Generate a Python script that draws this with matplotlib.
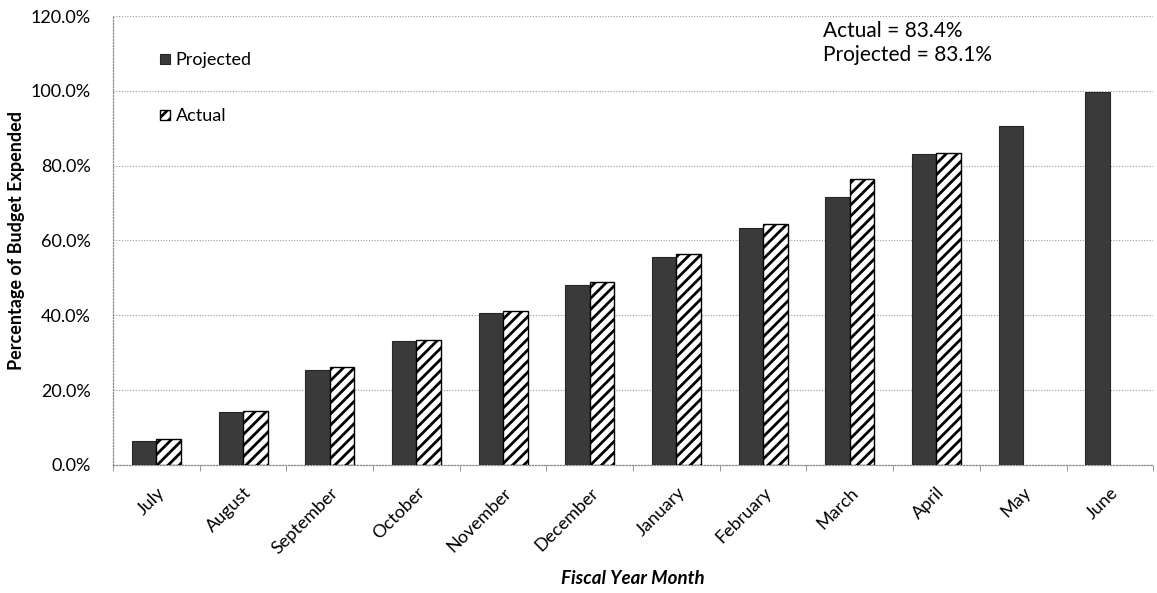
import matplotlib.pyplot as plt
import numpy as np
from matplotlib.ticker import FuncFormatter

# Cumulative share of budget spent by month
months = ['July', 'August', 'September', 'October', 'November', 'December',
          'January', 'February', 'March', 'April', 'May', 'June']
projected = [6.4, 14.1, 25.3, 33.2, 40.6, 48.2, 55.6, 63.4, 71.7, 83.1, 90.5, 99.7]
actual = [6.9, 14.5, 26.2, 33.5, 41.2, 48.8, 56.5, 64.3, 76.4, 83.4]

plt.rcParams['font.family'] = ['Lato', 'DejaVu Sans']
plt.rcParams['hatch.linewidth'] = 2.0

fig = plt.figure(figsize=(11.57, 5.93), dpi=100)
ax = fig.add_axes([0.0977, 0.216, 0.899, 0.757])

x = np.arange(len(months))
w = 0.283

ax.bar(x - w / 2, projected, width=w, color='#3a3a3a', edgecolor='#262626',
       linewidth=0.8, label='Projected', zorder=3)
ax.bar(x[:len(actual)] + w / 2, actual, width=w, color='white', edgecolor='black',
       hatch='///', linewidth=1.0, label='Actual', zorder=3)

ax.set_xlim(-0.5, len(months) - 0.5)
ax.set_ylim(0, 120)
ax.set_yticks(np.arange(0, 121, 20))
ax.yaxis.set_major_formatter(FuncFormatter(lambda v, p: f'{v:.1f}%'))
ax.tick_params(axis='y', length=0, labelsize=13, pad=16)

ax.set_xticks(x)
ax.set_xticklabels(months, rotation=45, ha='right', rotation_mode='anchor',
                   fontsize=13)
ax.set_xticks(np.arange(-0.5, len(months), 1), minor=True)
ax.tick_params(axis='x', which='major', length=0, pad=14)
ax.tick_params(axis='x', which='minor', length=4, color='#888888')

# dotted grid and axis lines
ax.grid(axis='y', linestyle=(0, (1, 1.5)), color='#999999', linewidth=0.8, zorder=0)
for side in ['top', 'right']:
    ax.spines[side].set_visible(False)
for side in ['left', 'bottom']:
    ax.spines[side].set_linestyle((0, (1, 1.5)))
    ax.spines[side].set_color('#888888')
    ax.spines[side].set_linewidth(0.9)

ax.set_ylabel('Percentage of Budget Expended', fontsize=13, fontweight='bold',
              labelpad=4)
ax.set_xlabel('Fiscal Year Month', fontsize=13.5, fontweight='bold',
              fontstyle='italic', labelpad=10)

ax.legend(loc='upper left', bbox_to_anchor=(0.03, 0.955), frameon=False,
          fontsize=13, handlelength=0.5, handleheight=0.5, handletextpad=0.35,
          labelspacing=2.2)

ax.text(0.683, 0.99, f'Actual = {actual[-1]:.1f}%\nProjected = {projected[len(actual) - 1]:.1f}%',
        transform=ax.transAxes, ha='left', va='top', fontsize=15,
        linespacing=1.3)

plt.savefig('out.png', dpi=100, facecolor='white')
